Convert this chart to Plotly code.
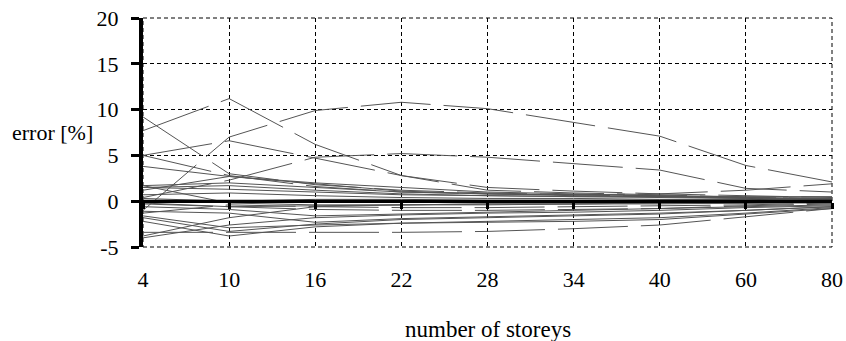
import plotly.graph_objects as go

storeys = ["4", "10", "16", "22", "28", "34", "40", "60", "80"]

# dashed series (error in %)
dashed_series = [
    [7.7, 11.2, 6.2, 2.8, 1.2, 0.9, 0.7, 0.4, 0.3],
    [-1.0, 7.0, 9.9, 10.8, 10.1, 8.6, 7.1, 3.9, 2.1],
    [5.0, 6.6, 4.7, 2.8, 1.5, 1.1, 0.8, 0.6, 0.4],
    [9.2, 3.0, 1.8, 1.2, 0.9, 0.7, 0.5, 0.4, 0.3],
    [0.4, 2.3, 4.8, 5.2, 4.8, 4.1, 3.4, 1.4, 1.0],
    [5.0, 2.8, 1.6, 1.0, 0.8, 0.7, 0.8, 1.2, 1.9],
    [-3.4, -3.4, -3.4, -3.4, -3.3, -3.0, -2.6, -1.7, -0.8],
    [-0.3, -0.6, -0.9, -1.0, -1.0, -0.9, -0.8, -0.5, -0.3],
    [-1.3, -0.4, -0.6, -0.7, -0.7, -0.6, -0.5, -0.4, -0.2],
]

# solid series (error in %)
solid_series = [
    [3.8, 2.7, 1.9, 1.1, 0.8, 0.6, 0.5, 0.3, 0.2],
    [1.2, 2.7, 2.0, 1.5, 1.0, 0.8, 0.6, 0.4, 0.2],
    [1.7, 2.0, 1.5, 1.0, 0.8, 0.7, 0.6, 0.5, 0.5],
    [1.5, 1.3, 1.0, 0.7, 0.6, 0.5, 0.4, 0.3, 0.2],
    [0.7, 0.9, 0.6, 0.4, 0.3, 0.3, 0.2, 0.2, 0.1],
    [0.3, 0.0, 0.2, 0.2, 0.1, 0.1, 0.1, 0.1, 0.0],
    [1.7, -0.2, -0.4, -0.4, -0.3, -0.3, -0.2, -0.2, -0.1],
    [-0.2, -0.6, -0.5, -0.4, -0.4, -0.3, -0.3, -0.2, -0.2],
    [-0.6, -0.9, -1.6, -1.4, -1.2, -1.0, -0.8, -0.6, -0.4],
    [-1.1, -1.3, -2.3, -1.9, -1.7, -1.5, -1.3, -1.0, -0.6],
    [-1.8, -3.3, -2.5, -2.0, -1.8, -1.6, -1.4, -1.0, -0.6],
    [-2.2, -3.8, -2.8, -2.4, -2.2, -2.0, -1.8, -1.3, -0.7],
    [-3.8, -1.8, -0.6, -0.4, -0.3, -0.3, -0.2, -0.2, -0.1],
    [-1.6, -2.9, -2.6, -2.4, -2.3, -2.2, -2.0, -1.4, -0.8],
    [-4.0, -2.6, -1.8, -1.5, -1.3, -1.2, -1.0, -0.7, -0.5],
    [1.5, 1.7, 1.2, 0.8, 0.6, 0.5, 0.5, 0.4, 0.3],
]

zero_line = [0, 0, 0, 0, 0, 0, 0, 0, 0]

y_ticks = [-5, 0, 5, 10, 15, 20]
y_tick_labels = ["-5", "0", "5", "10", "15", "20"]

FONT = "Liberation Serif"

fig = go.Figure()

for s in solid_series:
    fig.add_trace(go.Scatter(x=storeys, y=s, mode="lines",
                             line=dict(color="#555555", width=1),
                             showlegend=False, hoverinfo="skip"))
for s in dashed_series:
    fig.add_trace(go.Scatter(x=storeys, y=s, mode="lines",
                             line=dict(color="#555555", width=1, dash="70px,13px"),
                             showlegend=False, hoverinfo="skip"))

# thick zero reference line with tick marks (on the overlaid axis)
fig.add_trace(go.Scatter(x=storeys, y=zero_line, mode="lines", xaxis="x2",
                         line=dict(color="black", width=3),
                         showlegend=False, hoverinfo="skip"))

grid = dict(showgrid=True, gridcolor="black", gridwidth=1, griddash="4px,3px")

fig.update_layout(
    width=846, height=341,
    margin=dict(l=143, r=14, t=18, b=94),
    paper_bgcolor="white", plot_bgcolor="white",
    font=dict(family=FONT, size=22, color="black"),
    xaxis=dict(type="category", categoryorder="array", categoryarray=storeys,
               range=[0, len(storeys) - 1], showline=False, zeroline=False,
               ticks="", ticklabelstandoff=17, automargin=False,
               tickfont=dict(family=FONT, size=22), **grid),
    xaxis2=dict(type="category", categoryorder="array", categoryarray=storeys,
                overlaying="x", matches="x", anchor="free", position=0.2,
                showline=True, linecolor="black", linewidth=3,
                ticks="outside", ticklen=6, tickwidth=3, tickcolor="black",
                showticklabels=False, showgrid=False, zeroline=False,
                automargin=False),
    yaxis=dict(range=[-5, 20], tickvals=y_ticks, ticktext=y_tick_labels,
               showline=True, linecolor="black", linewidth=4,
               ticks="outside", ticklen=8, tickwidth=3, tickcolor="black",
               zeroline=False, ticklabelstandoff=8, automargin=False,
               tickfont=dict(family=FONT, size=22), **grid),
    shapes=[
        dict(type="rect", xref="paper", yref="paper", x0=0, x1=1, y0=0, y1=1,
             line=dict(color="black", width=1, dash="4px,3px"), layer="below"),
    ],
    annotations=[
        dict(text="error [%]", xref="paper", yref="y", x=-0.193, y=7.5,
             xanchor="left", yanchor="middle", showarrow=False,
             font=dict(family=FONT, size=22)),
        dict(text="number of storeys", xref="paper", yref="paper", x=0.5,
             y=-0.362, xanchor="center", yanchor="middle", showarrow=False,
             font=dict(family=FONT, size=23)),
    ],
)

# remove the default page margin so the figure fills the window exactly
fig.write_html("out.html",
               config={"responsive": False, "displayModeBar": False},
               post_script="document.body.style.margin='0';")
